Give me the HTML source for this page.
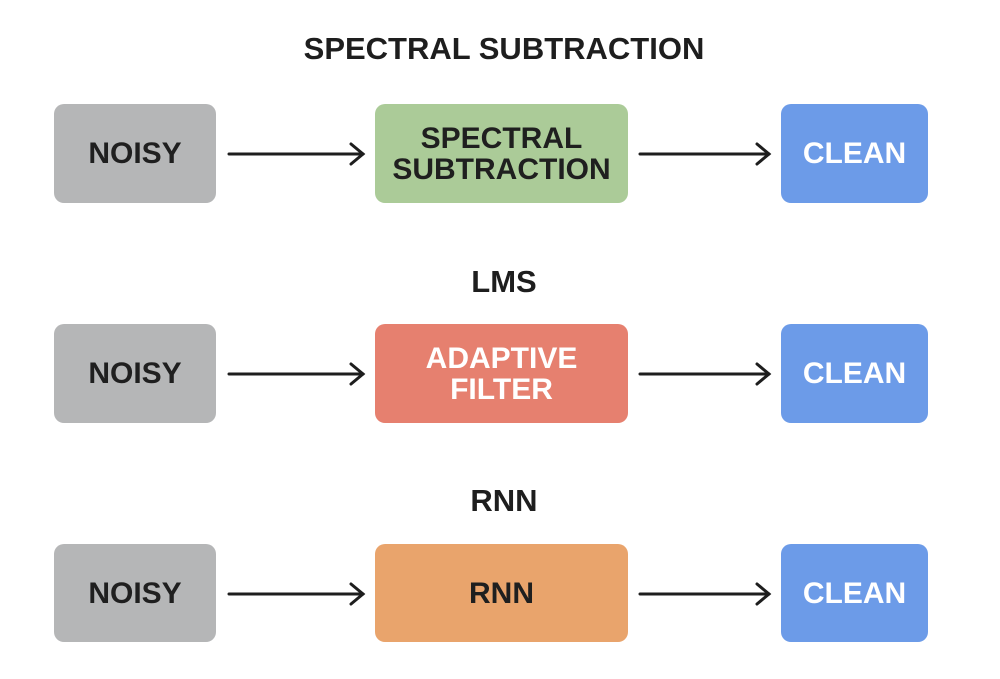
<!DOCTYPE html>
<html><head><style>
body{margin:0;width:1000px;height:679px;background:#fff;position:relative;overflow:hidden;font-family:"Liberation Sans",sans-serif;font-weight:bold}
.t{position:absolute;left:0;width:1008px;text-align:center;font-size:31px;color:#1e1e1e}
.b{position:absolute;border-radius:10px;display:flex;align-items:center;justify-content:center;text-align:center;font-size:30px;line-height:31px;color:#1f1f1f}
.n{left:54px;width:162px;background:#b5b6b7}
.m{left:375px;width:253px}
.c{left:781px;width:147px;background:#6c9be8;color:#fff}
</style></head><body>
<div class="t" style="top:31px">SPECTRAL SUBTRACTION</div>
<div class="t" style="top:264px">LMS</div>
<div class="t" style="top:483px">RNN</div>

<div class="b n" style="top:104px;height:99px">NOISY</div>
<div class="b m" style="top:104px;height:99px;background:#abcb98">SPECTRAL<br>SUBTRACTION</div>
<div class="b c" style="top:104px;height:99px">CLEAN</div>

<div class="b n" style="top:324px;height:99px">NOISY</div>
<div class="b m" style="top:324px;height:99px;background:#e6806f;color:#fff">ADAPTIVE<br>FILTER</div>
<div class="b c" style="top:324px;height:99px">CLEAN</div>

<div class="b n" style="top:544px;height:98px">NOISY</div>
<div class="b m" style="top:544px;height:98px;background:#e9a46c">RNN</div>
<div class="b c" style="top:544px;height:98px">CLEAN</div>

<svg width="1000" height="679" style="position:absolute;left:0;top:0">
<g stroke="#1e1e1e" stroke-width="3" fill="none" stroke-linecap="round" stroke-linejoin="miter">
<line x1="229" y1="154" x2="363" y2="154"/><polyline points="351,144 363,154 351,164"/>
<line x1="640" y1="154" x2="769" y2="154"/><polyline points="757,144 769,154 757,164"/>
<line x1="229" y1="374" x2="363" y2="374"/><polyline points="351,364 363,374 351,384"/>
<line x1="640" y1="374" x2="769" y2="374"/><polyline points="757,364 769,374 757,384"/>
<line x1="229" y1="594" x2="363" y2="594"/><polyline points="351,584 363,594 351,604"/>
<line x1="640" y1="594" x2="769" y2="594"/><polyline points="757,584 769,594 757,604"/>
</g></svg>
</body></html>
